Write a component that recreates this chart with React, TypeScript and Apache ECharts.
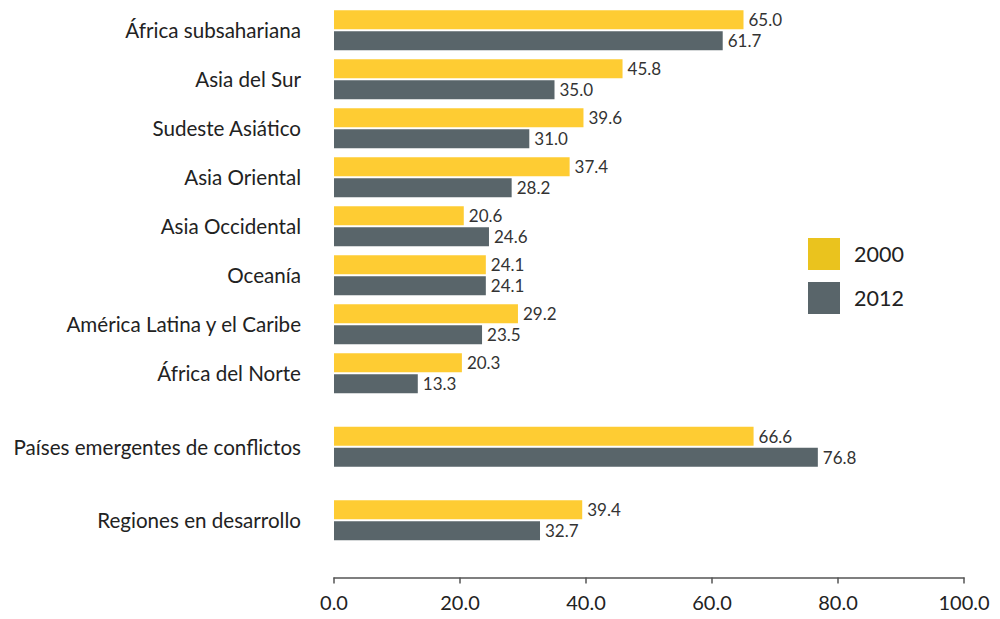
import React, { useEffect, useRef } from "react";
import * as echarts from "echarts";

const categories = [
  "África subsahariana",
  "Asia del Sur",
  "Sudeste Asiático",
  "Asia Oriental",
  "Asia Occidental",
  "Oceanía",
  "América Latina y el Caribe",
  "África del Norte",
  "Países emergentes de conflictos",
  "Regiones en desarrollo",
];
// slot index of each category on the (finer) category axis; empty slots create the gaps
const slotIndex = [0, 2, 4, 6, 8, 10, 12, 14, 17, 20];
const slotCount = 21;
const values2000 = [65.0, 45.8, 39.6, 37.4, 20.6, 24.1, 29.2, 20.3, 66.6, 39.4];
const values2012 = [61.7, 35.0, 31.0, 28.2, 24.6, 24.1, 23.5, 13.3, 76.8, 32.7];
const xTicks = [0, 20, 40, 60, 80, 100];
const seriesNames = ["2000", "2012"];

const FONT = "Lato, 'Noto Sans', sans-serif";

function toSlots<T>(arr: T[], empty: T): T[] {
  const out: T[] = new Array(slotCount).fill(empty);
  slotIndex.forEach((s, i) => (out[s] = arr[i]));
  return out;
}

export default function App() {
  const ref = useRef<HTMLDivElement>(null);
  useEffect(() => {
    if (!ref.current) return;
    const chart = echarts.init(ref.current, undefined, { renderer: "svg" });
    const slotCats = toSlots(categories, "");
    const barLabel = {
      show: true,
      position: "right",
      distance: 5,
      color: "#333333",
      fontSize: 17,
      fontFamily: FONT,
      formatter: (p: any) => (p.value == null ? "" : Number(p.value).toFixed(1)),
    };
    chart.setOption({
      animation: false,
      backgroundColor: "#ffffff",
      grid: { left: 334, right: 36, top: 18, height: 514.5, containLabel: false },
      legend: {
        orient: "vertical",
        left: 803,
        top: 233,
        itemWidth: 32,
        itemHeight: 32,
        itemGap: 12,
        icon: "rect",
        textStyle: { fontSize: 21.5, color: "#222222", fontFamily: FONT, padding: [0, 0, 4, 9] },
        data: [
          { name: seriesNames[0], itemStyle: { color: "#EAC31E" } },
          { name: seriesNames[1], itemStyle: { color: "#59656A" } },
        ],
      },
      xAxis: {
        type: "value",
        min: xTicks[0],
        max: xTicks[xTicks.length - 1],
        interval: 20,
        offset: 45,
        axisLine: { show: true, lineStyle: { color: "#555555", width: 1.5 } },
        axisTick: { show: true, length: 6, lineStyle: { color: "#555555", width: 1.5 } },
        splitLine: { show: false },
        axisLabel: {
          fontSize: 20,
          color: "#222222",
          fontFamily: FONT,
          margin: 14,
          formatter: (v: number) => v.toFixed(1),
        },
      },
      yAxis: {
        type: "category",
        inverse: true,
        data: slotCats,
        axisLine: { show: false },
        axisTick: { show: false },
        axisLabel: {
          interval: 0,
          fontSize: 20.6,
          color: "#222222",
          fontFamily: FONT,
          margin: 33,
        },
      },
      series: [
        {
          name: seriesNames[0],
          type: "bar",
          clip: false,
          data: toSlots<number | null>(values2000, null),
          barWidth: 19,
          barGap: "10%",
          itemStyle: { color: "#FECC33" },
          label: barLabel,
        },
        {
          name: seriesNames[1],
          type: "bar",
          clip: false,
          data: toSlots<number | null>(values2012, null),
          barWidth: 19,
          barGap: "10%",
          itemStyle: { color: "#59656A" },
          label: barLabel,
        },
      ],
    });
    return () => chart.dispose();
  }, []);
  return (
    <div
      ref={ref}
      style={{ position: "fixed", left: 0, top: 0, width: 1000, height: 619 }}
    />
  );
}
